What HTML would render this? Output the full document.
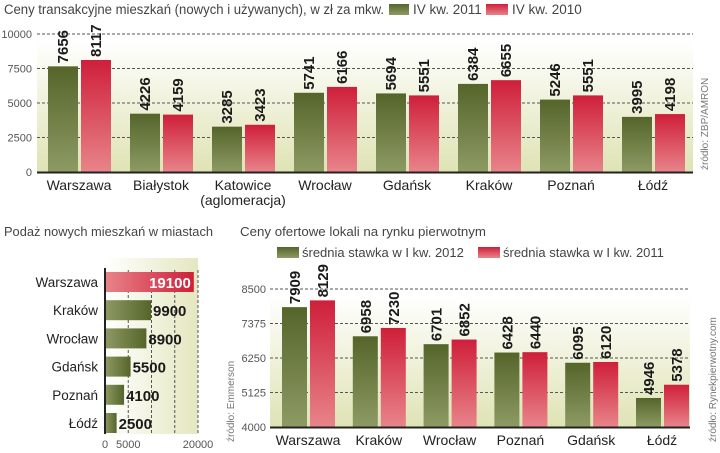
<!DOCTYPE html>
<html><head><meta charset="utf-8"><style>
body{margin:0;background:#fff;width:720px;height:453px;overflow:hidden}
svg{display:block;font-family:"Liberation Sans",sans-serif}
.v{font-family:"Liberation Sans Narrow","Liberation Sans",sans-serif;font-weight:bold;font-size:15px;fill:#1a1a1a}
</style></head><body>
<svg id="s" width="720" height="453">
<defs>
<linearGradient id="bg" x1="0" y1="0" x2="0" y2="1"><stop offset="0" stop-color="#fff"/><stop offset="1" stop-color="#dfe3b4"/></linearGradient>
<linearGradient id="bgh" x1="0" y1="0" x2="1" y2="0"><stop offset="0" stop-color="#fff"/><stop offset="1" stop-color="#e4e7bf"/></linearGradient>
<linearGradient id="gr" x1="0" y1="0" x2="0" y2="1"><stop offset="0" stop-color="#55652a"/><stop offset="1" stop-color="#8d9a64"/></linearGradient>
<linearGradient id="rd" x1="0" y1="0" x2="0" y2="1"><stop offset="0" stop-color="#cf1f3a"/><stop offset="1" stop-color="#e8848a"/></linearGradient>
<linearGradient id="grh" x1="0" y1="0" x2="1" y2="0"><stop offset="0" stop-color="#8d9a64"/><stop offset="1" stop-color="#55652a"/></linearGradient>
<linearGradient id="rdh" x1="0" y1="0" x2="1" y2="0"><stop offset="0" stop-color="#e8848a"/><stop offset="1" stop-color="#cf1f3a"/></linearGradient>
</defs>
<rect x="37" y="40" width="656" height="132" fill="url(#bg)"/>
<rect x="105" y="258" width="93" height="176" fill="url(#bgh)"/>
<rect x="270" y="296" width="420" height="131" fill="url(#bg)"/>
<text x="4" y="14" font-size="13.5" fill="#444" textLength="380" lengthAdjust="spacingAndGlyphs">Ceny transakcyjne mieszkań (nowych i używanych), w zł za mkw.</text>
<rect x="389" y="4" width="20" height="11" fill="url(#gr)"/>
<text x="413" y="14" font-size="13.5" fill="#444">IV kw. 2011</text>
<rect x="486" y="4" width="22" height="11" fill="url(#rd)"/>
<text x="512" y="14" font-size="13.5" fill="#444">IV kw. 2010</text>
<text transform="translate(708,170) rotate(-90)" font-size="10" fill="#777">źródło: ZBP/AMRON</text>
<text x="4" y="236" font-size="13" fill="#444" textLength="209" lengthAdjust="spacingAndGlyphs">Podaż nowych mieszkań w miastach</text>
<text transform="translate(234,442) rotate(-90)" font-size="10" fill="#777">źródło: Emmerson</text>
<text x="240" y="236" font-size="13" fill="#444" textLength="246" lengthAdjust="spacingAndGlyphs">Ceny ofertowe lokali na rynku pierwotnym</text>
<rect x="277" y="247" width="22" height="11" fill="url(#gr)"/>
<text x="302" y="257" font-size="13" fill="#444">średnia stawka w  I kw. 2012</text>
<rect x="478" y="247" width="22" height="11" fill="url(#rd)"/>
<text x="503" y="257" font-size="13" fill="#444">średnia stawka w  I kw. 2011</text>
<text transform="translate(716,442) rotate(-90)" font-size="10" fill="#777">źródło: Rynekpierwotny.com</text>
</svg>
<script>
const c1Cats=["Warszawa","Białystok","Katowice","Wrocław","Gdańsk","Kraków","Poznań","Łódź"];
const c1A=[7656,4226,3285,5741,5694,6384,5246,3995];
const c1B=[8117,4159,3423,6166,5551,6655,5551,4198];
const c1Ticks=[0,2500,5000,7500,10000];
const c2Cats=["Warszawa","Kraków","Wrocław","Gdańsk","Poznań","Łódź"];
const c2Vals=[19100,9900,8900,5500,4100,2500];
const c2Ticks=[0,5000,20000];
const c2Grid=[5000,10000,15000,20000];
const c3Cats=["Warszawa","Kraków","Wrocław","Poznań","Gdańsk","Łódź"];
const c3A=[7909,6958,6701,6428,6095,4946];
const c3B=[8129,7230,6852,6440,6120,5378];
const c3Ticks=[4000,5125,6250,7375,8500];
const S=document.getElementById('s');
function mk(t,a,txt){const e=document.createElementNS('http://www.w3.org/2000/svg',t);for(const k in a)e.setAttribute(k,a[k]);if(txt!=null)e.textContent=txt;S.appendChild(e);return e;}
// chart 1
const y1=v=>172-v*138/10000;
c1Ticks.forEach(t=>{
 if(t>0){const l=mk('line',{x1:37,x2:693,y1:y1(t),y2:y1(t),stroke:'#555','stroke-dasharray':'3,2'});
 
 }
 const tx=mk('text',{x:32,y:y1(t)+4,'font-size':11,fill:'#555','text-anchor':'end'},t);
 
 
});
c1Cats.forEach((c,i)=>{
 const x=48+i*82;
 [[c1A[i],'url(#gr)',0],[c1B[i],'url(#rd)',33]].forEach(([v,f,o],j)=>{
  const r=mk('rect',{x:x+o,y:y1(v),width:30,height:172-y1(v),fill:f});
  
  
  const t=mk('text',{class:'v',transform:`translate(${x+o+20},${y1(v)-3}) rotate(-90)`},v);
  
  
 });
 const lb=mk('text',{x:x+31,y:190,'font-size':14,fill:'#222','text-anchor':'middle'},c);
 
 
 if(i==2){const l2=mk('text',{x:x+31,y:205,'font-size':14,fill:'#222','text-anchor':'middle'},'(aglomeracja)');
 
 }
});
const ax1=mk('line',{x1:37,x2:693,y1:172.5,y2:172.5,stroke:'#222','stroke-width':2});


// chart 2
const x2=v=>105+v*93/20000;
c2Grid.forEach(t=>{const l=mk('line',{x1:x2(t),x2:x2(t),y1:270,y2:434,stroke:'#555','stroke-dasharray':'3,2'});
 
 });
c2Ticks.forEach(t=>{const tx=mk('text',{x:x2(t),y:448,'font-size':11,fill:'#555','text-anchor':'middle'},t);
 
 });
c2Vals.forEach((v,i)=>{
 const y=272+i*28.2;
 const r=mk('rect',{x:105,y:y,width:x2(v)-105,height:20,fill:i==0?'url(#rdh)':'url(#grh)'});
 
 
 const t=mk('text',{class:'v',x:i==0?x2(v)-3:x2(v)+2,y:y+16,'font-size':16,'text-anchor':i==0?'end':'start',style:i==0?'fill:#fff':''},v);
 
 
 const lb=mk('text',{x:98,y:y+15,'font-size':13.5,fill:'#222','text-anchor':'end'},c2Cats[i]);
 
 
});
const ax2=mk('line',{x1:105,x2:105,y1:268,y2:434,stroke:'#222','stroke-width':2});


// chart 3
const y3=v=>427-(v-4000)*138/4500;
c3Ticks.forEach(t=>{
 if(t>4000){const l=mk('line',{x1:270,x2:690,y1:y3(t),y2:y3(t),stroke:'#555','stroke-dasharray':'3,2'});
 
 }
 const tx=mk('text',{x:266,y:y3(t)+4,'font-size':11,fill:'#555','text-anchor':'end'},t);
 
 
});
c3Cats.forEach((c,i)=>{
 const x=282+i*70.8;
 [[c3A[i],'url(#gr)',0],[c3B[i],'url(#rd)',28]].forEach(([v,f,o])=>{
  const r=mk('rect',{x:x+o,y:y3(v),width:25,height:427-y3(v),fill:f});
  
  
  const t=mk('text',{class:'v',transform:`translate(${x+o+18},${y3(v)-3}) rotate(-90)`},v);
  
  
 });
 const lb=mk('text',{x:x+26,y:445,'font-size':14,fill:'#222','text-anchor':'middle'},c);
 
 
});
const ax3=mk('line',{x1:270,x2:690,y1:427.5,y2:427.5,stroke:'#222','stroke-width':2});


</script>
</body></html>
